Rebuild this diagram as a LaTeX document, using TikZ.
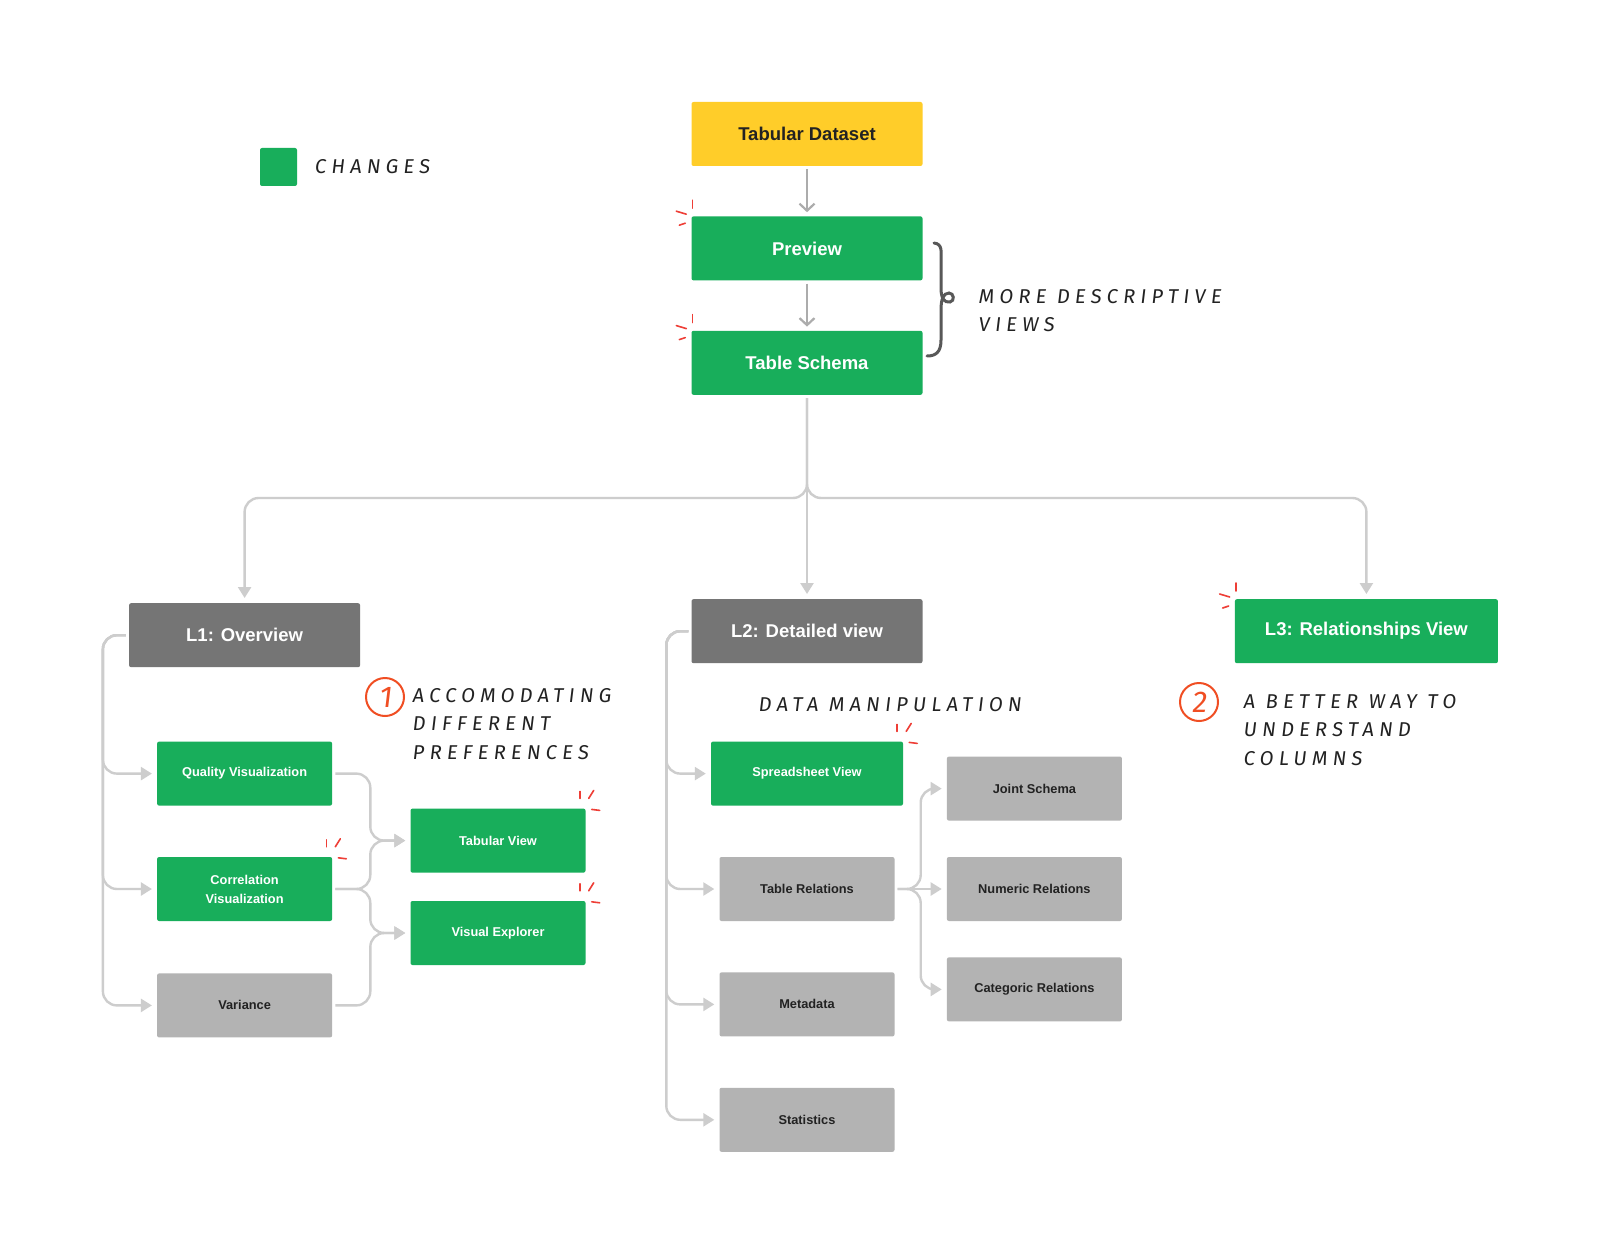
\documentclass[tikz,border=0pt]{standalone}
\usepackage{fontspec}
\setmainfont{Liberation Sans}
\newfontfamily\handfont[LetterSpace=26,FakeSlant=0.12]{Fira Sans}
\newfontfamily\numfont[FakeSlant=0.12]{Fira Sans}
\usetikzlibrary{positioning,arrows.meta}
\definecolor{changeGreen}{RGB}{24,174,91}
\definecolor{datasetYellow}{RGB}{255,205,41}
\definecolor{levelGray}{RGB}{117,117,117}
\definecolor{plainGray}{RGB}{179,179,179}
\definecolor{treeGray}{RGB}{205,205,205}
\definecolor{flowGray}{RGB}{172,172,172}
\definecolor{inkBlack}{RGB}{34,34,34}
\definecolor{braceGray}{RGB}{88,88,88}
\definecolor{sparkRed}{RGB}{238,62,54}
\definecolor{noteOrange}{RGB}{240,78,35}

% red "new" marks at a box corner
\newcommand{\sparkleleft}[1]{%
  \draw[sparkle] ([shift={(1,-16)}]#1.north west) -- ++(0,8);
  \draw[sparkle] ([shift={(-15,-5)}]#1.north west) -- ++(10,3);
  \draw[sparkle] ([shift={(-12,9)}]#1.north west) -- ++(6,-2);
}
\newcommand{\sparkleright}[1]{%
  \draw[sparkle] ([shift={(-6,-17)}]#1.north east) -- ++(0,7);
  \draw[sparkle] ([shift={(3,-10)}]#1.north east) -- ++(5,-8);
  \draw[sparkle] ([shift={(6,1)}]#1.north east) -- ++(8,1);
}

\begin{document}
\begin{tikzpicture}[
    x=1pt, y=-1pt,
    node distance=50pt,
    % Styles
    box/.style={
        rounded corners=2pt,
        align=center,
        inner sep=0pt,
        minimum height=64pt
    },
    topbox/.style={
        box,
        font=\fontsize{18.5}{22}\selectfont\bfseries,
        minimum width=231pt
    },
    smallbox/.style={
        box,
        font=\fontsize{12.8}{19}\selectfont\bfseries,
        minimum width=175pt
    },
    changed/.style={fill=changeGreen, text=white},
    kept/.style={fill=plainGray, text=inkBlack},
    level/.style={fill=levelGray, text=white},
    flow/.style={
        draw=flowGray, line width=2.2pt,
        -{Straight Barb[length=7pt,width=15pt]},
        shorten <=3pt, shorten >=4pt
    },
    tree/.style={
        draw=treeGray, line width=2.4pt,
        -{Triangle[length=11pt,width=13pt]},
        rounded corners=14pt,
        shorten <=3pt, shorten >=5pt
    },
    hand/.style={
        font=\handfont\fontsize{20}{28.5}\selectfont,
        text=inkBlack, inner sep=0pt, align=left
    },
    number/.style={
        circle, draw=noteOrange, text=noteOrange, line width=2pt,
        minimum size=38pt, inner sep=0pt,
        font=\numfont\fontsize{30}{30}\selectfont
    },
    sparkle/.style={draw=sparkRed, line width=1.6pt, line cap=round},
    legendbox/.style={fill=changeGreen, rounded corners=2pt,
        minimum width=37pt, minimum height=38pt}
]
    \path[fill=white, use as bounding box] (0,0) rectangle (1600,1252);

    % ---------------------------------------------------------
    % LEGEND
    % ---------------------------------------------------------
    \node[legendbox] (legend) at (278.5,167) {};
    \node[hand, right=17pt of legend] (legendtext) {CHANGES};

    % ---------------------------------------------------------
    % TOP: DATASET AND DESCRIPTIVE VIEWS
    % ---------------------------------------------------------
    \node[topbox, fill=datasetYellow, text=inkBlack] (dataset) at (807,134) {Tabular Dataset};
    \node[topbox, changed, below=50pt of dataset] (preview) {Preview};
    \node[topbox, changed, below=50pt of preview] (schema) {Table Schema};

    % hand drawn brace
    \draw[braceGray, line width=3pt, line cap=round]
        (934,243) .. controls (943,244) and (941,252) .. (941,262)
        -- (941,288) .. controls (941,298) and (944,303) .. (950,302)
        .. controls (955,301) and (954,293) .. (949,293)
        .. controls (943,293) and (941,300) .. (941,310)
        -- (941,340) .. controls (941,352) and (936,356) .. (927,356);
    % base of a multi line note is its last line
    \node[hand, anchor=base west] (descnote) at (978,331.5) {MORE DESCRIPTIVE\\VIEWS};

    % ---------------------------------------------------------
    % MIDDLE: THREE LEVELS
    % ---------------------------------------------------------
    \node[topbox, level, below=204pt of schema] (ltwo) {L2: Detailed view};
    \node[topbox, level, left=331pt of ltwo, yshift=-4pt] (lone) {L1: Overview};
    \node[topbox, changed, right=312pt of ltwo, minimum width=263pt] (lthree) {L3: Relationships View};
    \coordinate[below=103pt of schema.south] (split);

    % ---------------------------------------------------------
    % L1 BRANCH
    % ---------------------------------------------------------
    \node[smallbox, changed, below=74pt of lone] (quality) {Quality Visualization};
    \node[smallbox, changed, below=51pt of quality] (correlation) {Correlation\\Visualization};
    \node[smallbox, kept, below=52pt of correlation] (variance) {Variance};
    \node[smallbox, changed, right=78pt of quality, yshift=-67pt] (tabview) {Tabular View};
    \node[smallbox, changed, below=28pt of tabview] (visexp) {Visual Explorer};

    \node[number] (numone) at (385,697) {1};
    \node[hand, anchor=base west] (prefnote) at (412,759) {ACCOMODATING\\DIFFERENT\\PREFERENCES};

    % ---------------------------------------------------------
    % L2 BRANCH
    % ---------------------------------------------------------
    \node[smallbox, changed, below=78pt of ltwo, minimum width=192pt] (sheet) {Spreadsheet View};
    \node[smallbox, kept, below=51pt of sheet] (tablerel) {Table Relations};
    \node[smallbox, kept, below=51pt of tablerel] (metadata) {Metadata};
    \node[smallbox, kept, below=51pt of metadata] (stats) {Statistics};
    \node[smallbox, kept, right=52pt of tablerel] (numeric) {Numeric Relations};
    \node[smallbox, kept, above=36pt of numeric] (joint) {Joint Schema};
    \node[smallbox, kept, below=36pt of numeric] (categoric) {Categoric Relations};

    \node[hand, anchor=base west] (datanote) at (758,711) {DATA MANIPULATION};

    % ---------------------------------------------------------
    % L3 NOTE
    % ---------------------------------------------------------
    \node[number] (numtwo) at (1199,702) {2};
    \node[hand, anchor=base west] (colnote) at (1243,765) {A BETTER WAY TO\\UNDERSTAND\\COLUMNS};

    % ---------------------------------------------------------
    % CONNECTIONS
    % ---------------------------------------------------------
    \draw[flow] (dataset) -- (preview);
    \draw[flow] (preview) -- (schema);

    % Fan out to the levels
    \draw[tree] (schema.south) -- (split) -| (lone.north);
    \draw[tree] (schema.south) -- (ltwo.north);
    \draw[tree] (schema.south) -- (split) -| (lthree.north);

    % L1 bus
    \draw[tree] (lone.west) -- ++(-26,0) |- (quality.west);
    \draw[tree] (lone.west) -- ++(-26,0) |- (correlation.west);
    \draw[tree] (lone.west) -- ++(-26,0) |- (variance.west);

    % Merge into the two new views
    \draw[tree] (quality.east) -- ++(38,0) |- (tabview.west);
    \draw[tree] (correlation.east) -- ++(38,0) |- (tabview.west);
    \draw[tree] (correlation.east) -- ++(38,0) |- (visexp.west);
    \draw[tree] (variance.east) -- ++(38,0) |- (visexp.west);

    % L2 bus
    \draw[tree] (ltwo.west) -- ++(-25,0) |- (sheet.west);
    \draw[tree] (ltwo.west) -- ++(-25,0) |- (tablerel.west);
    \draw[tree] (ltwo.west) -- ++(-25,0) |- (metadata.west);
    \draw[tree] (ltwo.west) -- ++(-25,0) |- (stats.west);

    % Table relations fan out
    \draw[tree] (tablerel.east) -- ++(26,0) |- (joint.west);
    \draw[tree] (tablerel.east) -- (numeric.west);
    \draw[tree] (tablerel.east) -- ++(26,0) |- (categoric.west);

    % ---------------------------------------------------------
    % RED MARKS ON CHANGED BOXES
    % ---------------------------------------------------------
    \sparkleleft{preview}
    \sparkleleft{schema}
    \sparkleleft{lthree}
    \sparkleright{correlation}
    \sparkleright{tabview}
    \sparkleright{visexp}
    \sparkleright{sheet}

\end{tikzpicture}
\end{document}
